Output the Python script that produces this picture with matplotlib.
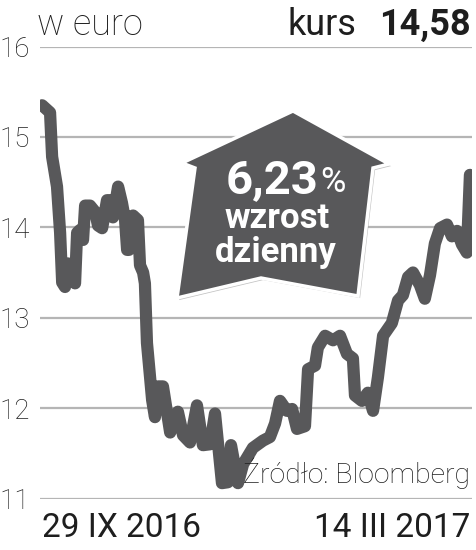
import matplotlib
matplotlib.use("Agg")
import matplotlib.pyplot as plt
from matplotlib.patches import Polygon
import matplotlib.patheffects as pe

# ---- data ----
# days since 29 IX 2016
days = [0.0, 3.1, 3.9, 5.8, 7.0, 7.8, 8.9, 10.1, 11.6, 12.8,
        13.6, 14.7, 15.9, 16.7, 18.6, 20.6, 21.7, 23.3, 25.2, 26.4,
        27.5, 29.5, 31.0, 32.2, 33.0, 33.7, 34.1, 35.3, 37.2, 38.0,
        39.2, 39.9, 40.7, 42.7, 43.8, 45.0, 46.9, 49.7, 52.7, 54.7,
        57.4, 60.1, 62.4, 65.2, 67.1, 69.8, 72.1, 73.3, 76.0, 78.0,
        81.8, 85.7, 88.4, 90.4, 92.3, 95.0, 97.0, 98.9, 102.0, 103.2,
        105.9, 107.0, 109.8, 112.9, 115.6, 118.3, 120.6, 121.4, 124.1, 126.4,
        128.4, 130.3, 132.3, 135.7, 138.1, 140.0, 142.0, 143.9, 146.6, 148.5,
        150.5, 152.4, 154.4, 157.1, 159.0, 161.0, 162.9, 164.8, 166.0]
price = [15.35, 15.27, 14.78, 14.45, 13.94, 13.39, 13.34, 13.60, 13.47, 13.38,
         13.94, 13.97, 13.86, 14.24, 14.24, 14.17, 14.02, 13.99, 14.30, 14.30,
         14.11, 14.45, 14.27, 14.08, 13.75, 13.75, 14.11, 14.13, 14.08, 13.58,
         13.50, 13.38, 12.72, 12.09, 11.90, 12.24, 12.24, 11.73, 11.96, 11.70,
         11.62, 12.03, 11.59, 11.60, 11.94, 11.17, 11.18, 11.59, 11.17, 11.38,
         11.56, 11.64, 11.68, 11.83, 12.08, 11.97, 11.99, 11.77, 11.80, 12.43,
         12.47, 12.67, 12.80, 12.75, 12.80, 12.60, 12.55, 12.14, 12.08, 12.17,
         11.97, 12.34, 12.80, 12.94, 13.19, 13.25, 13.45, 13.50, 13.36, 13.21,
         13.47, 13.82, 13.99, 14.03, 13.90, 13.96, 13.81, 13.72, 14.58]
y_ticks = [11, 12, 13, 14, 15, 16]
y_tick_labels = ["11", "12", "13", "14", "15", "16"]
x_tick_pos = [0, 166]
x_tick_labels = ["29 IX 2016", "14 III 2017"]
unit_label = "w euro"
kurs_label = "kurs"
kurs_value = "14,58"
badge_pct = "6,23"
badge_lines = ["wzrost", "dzienny"]
source = "Źródło: Bloomberg"

W, H = 476, 550
FONT = "Roboto"
LINE_C = "#58585a"
GRID_C = "#b5b5b5"
TXT_C = "#1e1e1e"

fig = plt.figure(figsize=(W / 100, H / 100), dpi=100)
fig.patch.set_facecolor("white")

def fx(px):
    return px / W

def fy(py):
    return 1 - py / H

ax_l, ax_r, ax_t, ax_b = 40, 472, 46.5, 498.5
ax = fig.add_axes([fx(ax_l), fy(ax_b), fx(ax_r) - fx(ax_l), fy(ax_t) - fy(ax_b)])
ax.set_facecolor("none")
ax.set_ylim(11, 16)
ax.set_xlim(-0.8, 166.8)
for s in ax.spines.values():
    s.set_visible(False)
ax.set_yticks(y_ticks)
ax.set_yticklabels(y_tick_labels, fontfamily=FONT, fontweight="light",
                   fontsize=20, color=TXT_C)
ax.yaxis.grid(True, color=GRID_C, linewidth=1.6)
ax.set_axisbelow(True)
ax.tick_params(axis="y", length=0, pad=7)
ax.set_xticks(x_tick_pos)
xl = ax.set_xticklabels(x_tick_labels, fontfamily=FONT, fontsize=24,
                        color=TXT_C)
xl[0].set_horizontalalignment("left")
xl[1].set_horizontalalignment("right")
ax.tick_params(axis="x", length=0, pad=10)

ax.plot(days, price, color=LINE_C, linewidth=8.8, solid_joinstyle="round",
        solid_capstyle="round", zorder=3)

# header texts
fig.text(fx(37), fy(35), unit_label, fontfamily=FONT, fontweight="light",
         fontsize=26, color=TXT_C, va="baseline", ha="left")
fig.text(fx(356), fy(35), kurs_label, fontfamily=FONT, fontsize=26,
         color=TXT_C, va="baseline", ha="right")
fig.text(fx(471), fy(35), kurs_value, fontfamily=FONT, fontweight="bold",
         fontsize=26, color=TXT_C, va="baseline", ha="right")

# source
fig.text(fx(470), fy(483), source, fontfamily=FONT, fontweight="light",
         fontsize=20.5, color=TXT_C, va="baseline", ha="right", zorder=5)

# badge (house-shaped arrow)
shape_px = [(293, 111), (389, 164), (373, 168), (358, 296), (261, 278),
            (177, 298), (195, 168), (182, 163)]
shape = [(fx(x), fy(y)) for x, y in shape_px]
badge = Polygon(shape, closed=True, transform=fig.transFigure,
                facecolor="#58585a", edgecolor="white", linewidth=2.5,
                joinstyle="miter", zorder=10)
badge.set_path_effects([pe.SimplePatchShadow(offset=(1.5, -1.5),
                                             shadow_rgbFace="#9a9a9a",
                                             alpha=0.6),
                        pe.Normal()])
fig.add_artist(badge)

fig.text(fx(318), fy(193), badge_pct, fontfamily=FONT, fontweight="bold",
         fontsize=34, color="white", va="baseline", ha="right", zorder=11)
fig.text(fx(320), fy(192), "%", fontfamily=FONT, fontsize=25,
         color="white", va="baseline", ha="left", zorder=11)
fig.text(fx(277), fy(228), badge_lines[0], fontfamily=FONT, fontweight="bold",
         fontsize=25, color="white", va="baseline", ha="center", zorder=11)
fig.text(fx(276), fy(262), badge_lines[1], fontfamily=FONT, fontweight="bold",
         fontsize=25, color="white", va="baseline", ha="center", zorder=11)

fig.savefig("out.png", dpi=100, facecolor="white")
